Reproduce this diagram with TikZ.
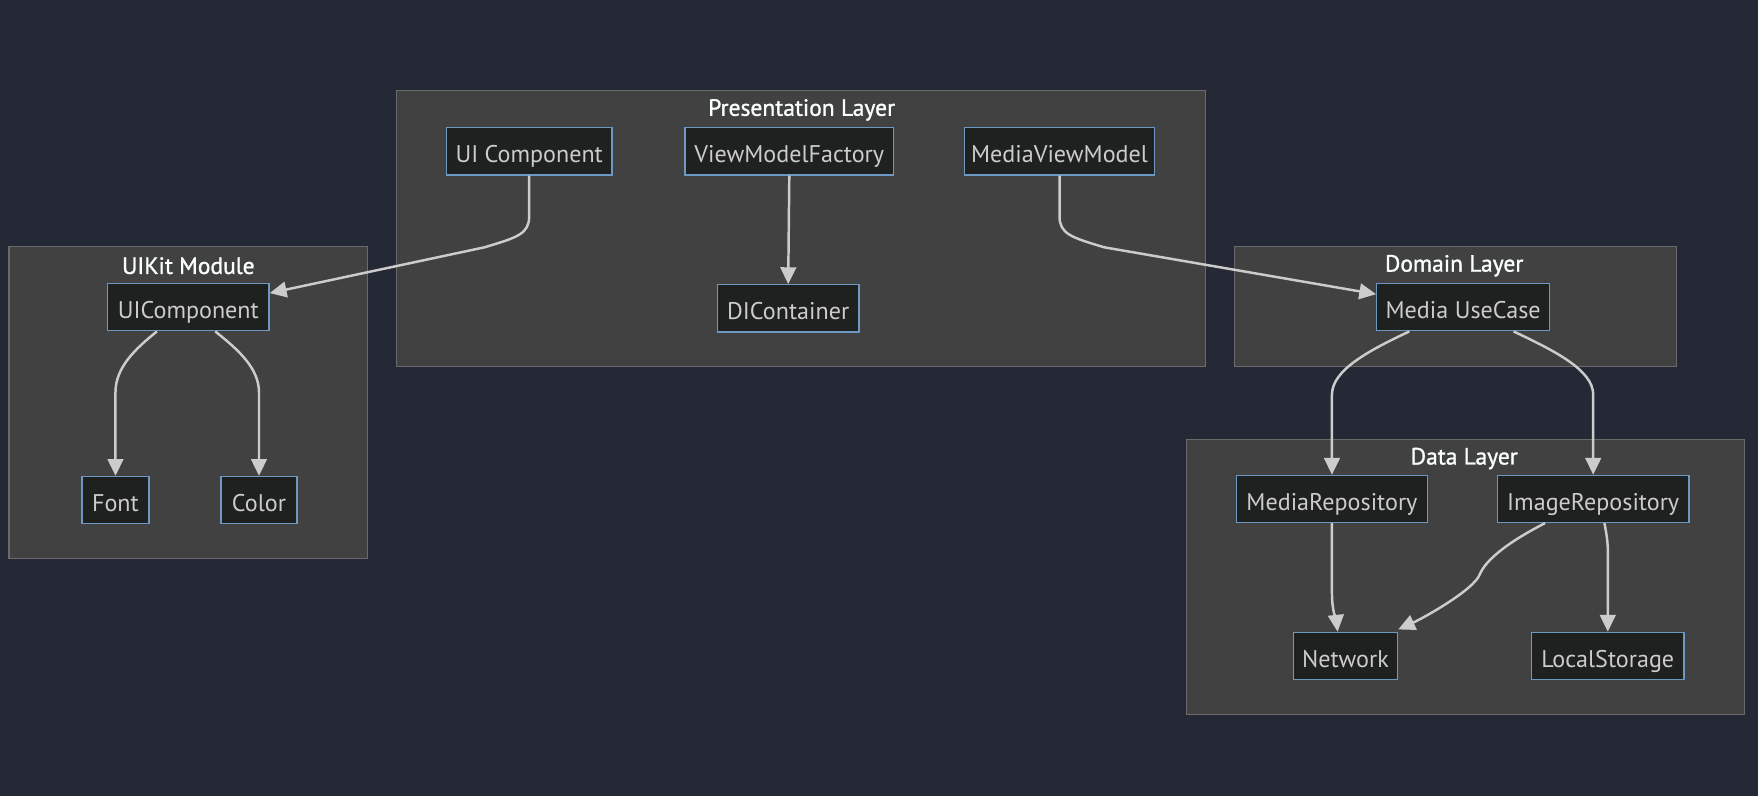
\documentclass[tikz,border=0pt]{standalone}
\usepackage{fontspec}
\setmainfont{PT Sans}
\newfontfamily\ttlfont{PT Sans}[FakeBold=1.2]
\usetikzlibrary{arrows.meta,calc}
\definecolor{bgc}{RGB}{37,41,53}
\definecolor{clfill}{RGB}{64,65,64}
\definecolor{cldraw}{RGB}{105,106,106}
\definecolor{ndfill}{RGB}{31,32,32}
\definecolor{nddraw}{RGB}{110,152,196}
\definecolor{ndtext}{RGB}{204,204,204}
\definecolor{edgec}{RGB}{204,204,204}
\definecolor{titc}{RGB}{249,255,254}
\tikzset{
  cluster/.style={fill=clfill,draw=cldraw,line width=1pt},
  nd/.style={fill=ndfill,draw=nddraw,line width=1.2pt,text=ndtext,font=\fontsize{21.5pt}{24pt}\selectfont,minimum height=42pt,inner sep=0pt,text height=20pt,text depth=0pt,anchor=center},
  ttl/.style={text=titc,font=\ttlfont\fontsize{21pt}{24pt}\selectfont,inner sep=0pt,anchor=center},
  edge/.style={draw=edgec,line width=2.2pt,-{Triangle[length=15pt,width=14pt]}}
}
\begin{document}
\begin{tikzpicture}[x=1pt,y=-1pt]
\fill[bgc] (0,0) rectangle (1568,710);
\useasboundingbox (0,0) rectangle (1568,710);
% clusters
\draw[cluster] (354,81) rectangle (1075,327);
\node[ttl] (tpres) at (715,98) {Presentation Layer};
\draw[cluster] (8,220) rectangle (328,498);
\node[ttl] (tuikit) at (168,237) {UIKit Module};
\draw[cluster] (1101,220) rectangle (1495,327);
\node[ttl] (tdom) at (1297,237) {Domain Layer};
\draw[cluster] (1058,392) rectangle (1556,637);
\node[ttl] (tdata) at (1306,409) {Data Layer};
% nodes
\node[nd,minimum width=148pt] (uic) at (472,135) {UI Component};
\node[nd,minimum width=186pt] (vmf) at (704,135) {ViewModelFactory};
\node[nd,minimum width=170pt] (mvm) at (945,135) {MediaViewModel};
\node[nd,minimum width=126pt] (dic) at (703,275) {DIContainer};
\node[nd,minimum width=144pt] (uik) at (168,274) {UIComponent};
\node[nd,minimum width=60pt] (font) at (103,446) {Font};
\node[nd,minimum width=68pt] (color) at (231,446) {Color};
\node[nd,minimum width=154pt] (muc) at (1305,274) {Media UseCase};
\node[nd,minimum width=170pt] (mrep) at (1188,445) {MediaRepository};
\node[nd,minimum width=171pt] (irep) at (1421,445) {ImageRepository};
\node[nd,minimum width=93pt] (net) at (1200,585) {Network};
\node[nd,minimum width=136pt] (loc) at (1434,585) {LocalStorage};
% edges
\draw[edge] (uic.south) -- ++(0,36) .. controls +(0,16) and +(30,-9) .. ++(-40,28) -- ($(uik.north east)+(0,9)$);
\draw[edge] (vmf.south) -- (dic.north);
\draw[edge] (mvm.south) -- ++(0,36) .. controls +(0,16) and +(-30,-9) .. ++(40,28) -- ($(muc.north west)+(0,10)$);
\draw[edge] ($(uik.south)+(-28,0)$) .. controls +(-20,16) and +(0,-22) .. (103,350) -- (font.north);
\draw[edge] ($(uik.south)+(24,0)$) .. controls +(20,16) and +(0,-22) .. (231,350) -- (color.north);
\draw[edge] ($(muc.south)+(-48,0)$) .. controls +(-36,17) and +(0,-22) .. (1188,352) -- (mrep.north);
\draw[edge] ($(muc.south)+(45,0)$) .. controls +(36,17) and +(0,-22) .. (1421,352) -- (irep.north);
\draw[edge] (mrep.south) -- ++(0,62) .. controls +(0,18) and +(-1,-10) .. ($(net.north)+(-7,0)$);
\draw[edge] ($(irep.south)+(-43,0)$) .. controls +(-35,18) and +(5,-12) .. (1320,512) .. controls +(-5,14) and +(22,-10) .. ($(net.north east)+(0,-2)$);
\draw[edge] ($(irep.south)+(10,0)$) .. controls +(4,20) and +(0,-22) .. (1434,512) -- (loc.north);
\end{tikzpicture}
\end{document}
